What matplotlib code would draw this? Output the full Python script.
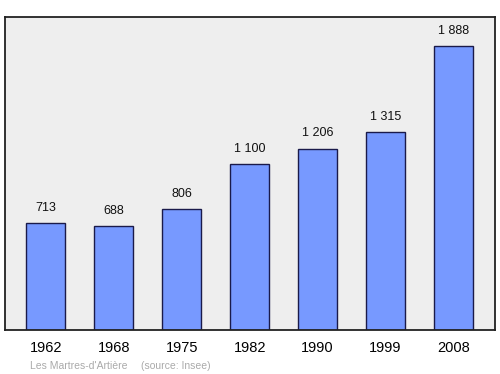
import matplotlib
matplotlib.use("Agg")
import matplotlib.pyplot as plt

years = ["1962", "1968", "1975", "1982", "1990", "1999", "2008"]
population = [713, 688, 806, 1100, 1206, 1315, 1888]
value_labels = ["713", "688", "806", "1 100", "1 206", "1 315", "1 888"]
source_left = "Les Martres-d'Artière"
source_right = "(source: Insee)"

plt.rcParams['font.family'] = ['Liberation Sans', 'DejaVu Sans']

fig = plt.figure(figsize=(5.0, 3.74), dpi=100)
ax = fig.add_axes([5/500, 1 - 330/374, 490/500, 313/374])
ax.set_facecolor('#eeeeee')
x = list(range(len(years)))
ax.bar(x, population, width=0.574, color='#7799ff', edgecolor='#1a1a4a', linewidth=1.0, zorder=2)
for xi, v, lab in zip(x, population, value_labels):
    ax.annotate(lab, (xi, v), xytext=(0, 6.5), textcoords='offset points',
                ha='center', va='bottom', fontsize=9, color='#111111')
ax.set_xlim(-0.6, 6.61)
ax.set_ylim(0, 2080)
ax.set_xticks(x)
ax.set_xticklabels(years, fontsize=10.5)
ax.tick_params(axis='x', length=0, pad=8)
ax.set_yticks([])
for s in ax.spines.values():
    s.set_color('#222222')
    s.set_linewidth(1.3)
fig.text(30/500, 1 - 366/374, source_left, fontsize=7.5, color='#aaaaaa', va='center', ha='left')
fig.text(141/500, 1 - 366/374, source_right, fontsize=7.5, color='#aaaaaa', va='center', ha='left')
fig.savefig('out.png', dpi=100)
